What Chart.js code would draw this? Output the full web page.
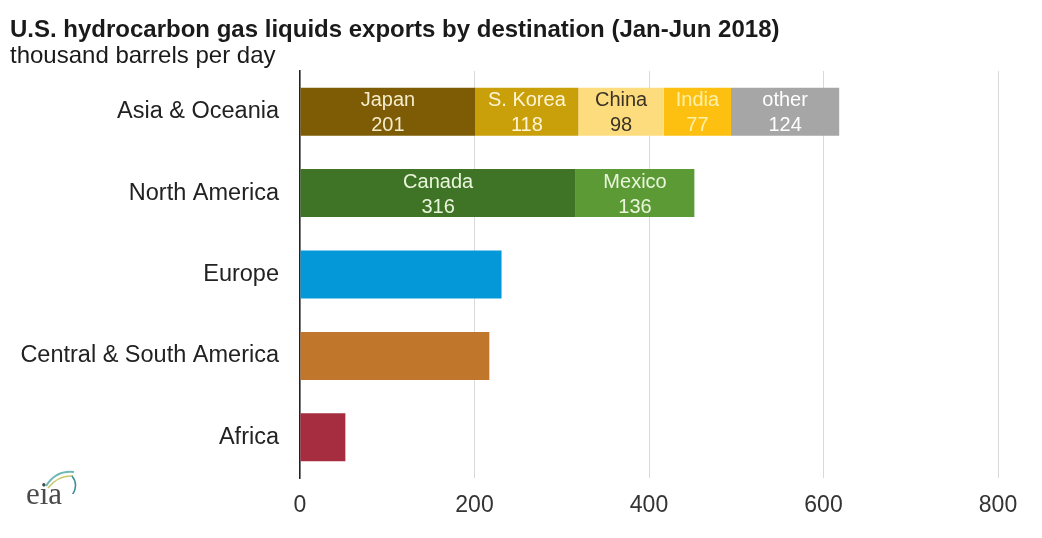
<!DOCTYPE html>
<html>
<head>
<meta charset="utf-8">
<script src="https://cdn.jsdelivr.net/npm/chart.js@4.4.1/dist/chart.umd.min.js"></script>
<style>
  html, body { margin: 0; padding: 0; background: #ffffff; }
  #wrap { position: relative; width: 1042px; height: 538px; overflow: hidden; font-family: "Liberation Sans", Arial, sans-serif; }
  #title { position: absolute; left: 10px; top: 17px; font-size: 24px; line-height: 24px; font-weight: bold; color: #1a1a1a; white-space: nowrap; }
  #subtitle { position: absolute; left: 10px; top: 43px; font-size: 24px; line-height: 24px; color: #1a1a1a; white-space: nowrap; }
  #logo { position: absolute; left: 26px; top: 470px; width: 60px; height: 44px; }
  #logo span { position: absolute; left: 0; top: 6px; font-family: "Liberation Serif", "DejaVu Serif", serif; font-size: 31px; color: #4a4a4a; }
  canvas { position: absolute; left: 0; top: 0; }
</style>
</head>
<body>
<div id="wrap">
  <canvas id="c" width="1042" height="538"></canvas>
  <div id="title">U.S. hydrocarbon gas liquids exports by destination (Jan-Jun 2018)</div>
  <div id="subtitle">thousand barrels per day</div>
  <div id="logo">
    <svg width="60" height="30" style="position:absolute;left:0;top:-6px">
      <path d="M20 22 Q30 6 48 8" stroke="#6fb7b5" stroke-width="2" fill="none"/>
      <path d="M22 24 Q32 11 47 12" stroke="#c8c86a" stroke-width="1.5" fill="none"/>
      <path d="M46 12 Q54 22 44 34" stroke="#3c8fa0" stroke-width="1.5" fill="none"/>
    </svg>
    <span>eia</span>
  </div>
</div>
<script>
// ---- data ----
const categories = ['Asia & Oceania', 'North America', 'Europe', 'Central & South America', 'Africa'];
const asiaCountries = ['Japan', 'S. Korea', 'China', 'India', 'other'];
const asiaValues = [201, 118, 98, 77, 124];
const naCountries = ['Canada', 'Mexico'];
const naValues = [316, 136];
const otherRegions = ['Europe', 'Central & South America', 'Africa'];
const otherRegionValues = [231, 217, 52];
const xTicks = [0, 200, 400, 600, 800];

// ---- styles ----
const asiaColors = ['#7d5c05', '#c9a00a', '#fcdc7c', '#fdc010', '#a6a6a6'];
const asiaTextColors = ['#f4eccb', '#fff4d4', '#3a3326', '#fff0a8', '#ffffff'];
const naColors = ['#3f7426', '#5b9a35'];
const naTextColors = ['#eaf6dc', '#eaf6dc'];
const regionColors = ['#0498d8', '#c0772c', '#a62c40'];

const datasets = [];
asiaCountries.forEach((name, i) => {
  const data = categories.map((c, k) => k === 0 ? asiaValues[i] : null);
  datasets.push({ label: name, data, backgroundColor: asiaColors[i], segLabel: true, textColor: asiaTextColors[i] });
});
naCountries.forEach((name, i) => {
  const data = categories.map((c, k) => k === 1 ? naValues[i] : null);
  datasets.push({ label: name, data, backgroundColor: naColors[i], segLabel: true, textColor: naTextColors[i] });
});
datasets.push({
  label: 'regions',
  data: categories.map(c => { const j = otherRegions.indexOf(c); return j >= 0 ? otherRegionValues[j] : null; }),
  backgroundColor: categories.map(c => { const j = otherRegions.indexOf(c); return j >= 0 ? regionColors[j] : 'transparent'; }),
  segLabel: false
});
datasets.forEach(d => { d.barPercentage = 0.59; d.categoryPercentage = 1.0; d.borderWidth = 0; });

const segLabelPlugin = {
  id: 'segLabels',
  afterDatasetsDraw(chart) {
    const ctx = chart.ctx;
    ctx.save();
    ctx.font = '20px "Liberation Sans", Arial, sans-serif';
    ctx.textAlign = 'center';
    ctx.textBaseline = 'middle';
    chart.data.datasets.forEach((ds, di) => {
      if (!ds.segLabel) return;
      const meta = chart.getDatasetMeta(di);
      meta.data.forEach((el, k) => {
        const v = ds.data[k];
        if (v == null) return;
        const cx = (el.x + el.base) / 2;
        ctx.fillStyle = ds.textColor;
        ctx.fillText(ds.label, cx, el.y - 11);
        ctx.fillText(String(v), cx, el.y + 14);
      });
    });
    ctx.restore();
  }
};

new Chart(document.getElementById('c'), {
  type: 'bar',
  data: { labels: categories, datasets },
  options: {
    indexAxis: 'y',
    responsive: false,
    animation: false,
    layout: { padding: { top: 71, right: 44, left: 0, bottom: 0 } },
    plugins: { legend: { display: false }, tooltip: { enabled: false } },
    scales: {
      x: {
        stacked: true,
        min: 0, max: 800,
        afterBuildTicks: s => { s.ticks = xTicks.map(v => ({ value: v })); },
        grid: { color: '#d9d9d9', lineWidth: 1, drawTicks: false },
        border: { display: false },
        ticks: { padding: 14, color: '#333', font: { family: '"Liberation Sans", Arial, sans-serif', size: 23 } },
        afterFit: s => { s.height = 60; }
      },
      y: {
        stacked: true,
        grid: { display: false, drawTicks: false },
        border: { display: true, color: '#222', width: 1.5 },
        ticks: { padding: 21, color: '#222', font: { family: '"Liberation Sans", Arial, sans-serif', size: 23.5 } },
        afterFit: s => { s.width = 300; }
      }
    }
  },
  plugins: [segLabelPlugin]
});
</script>
</body>
</html>
